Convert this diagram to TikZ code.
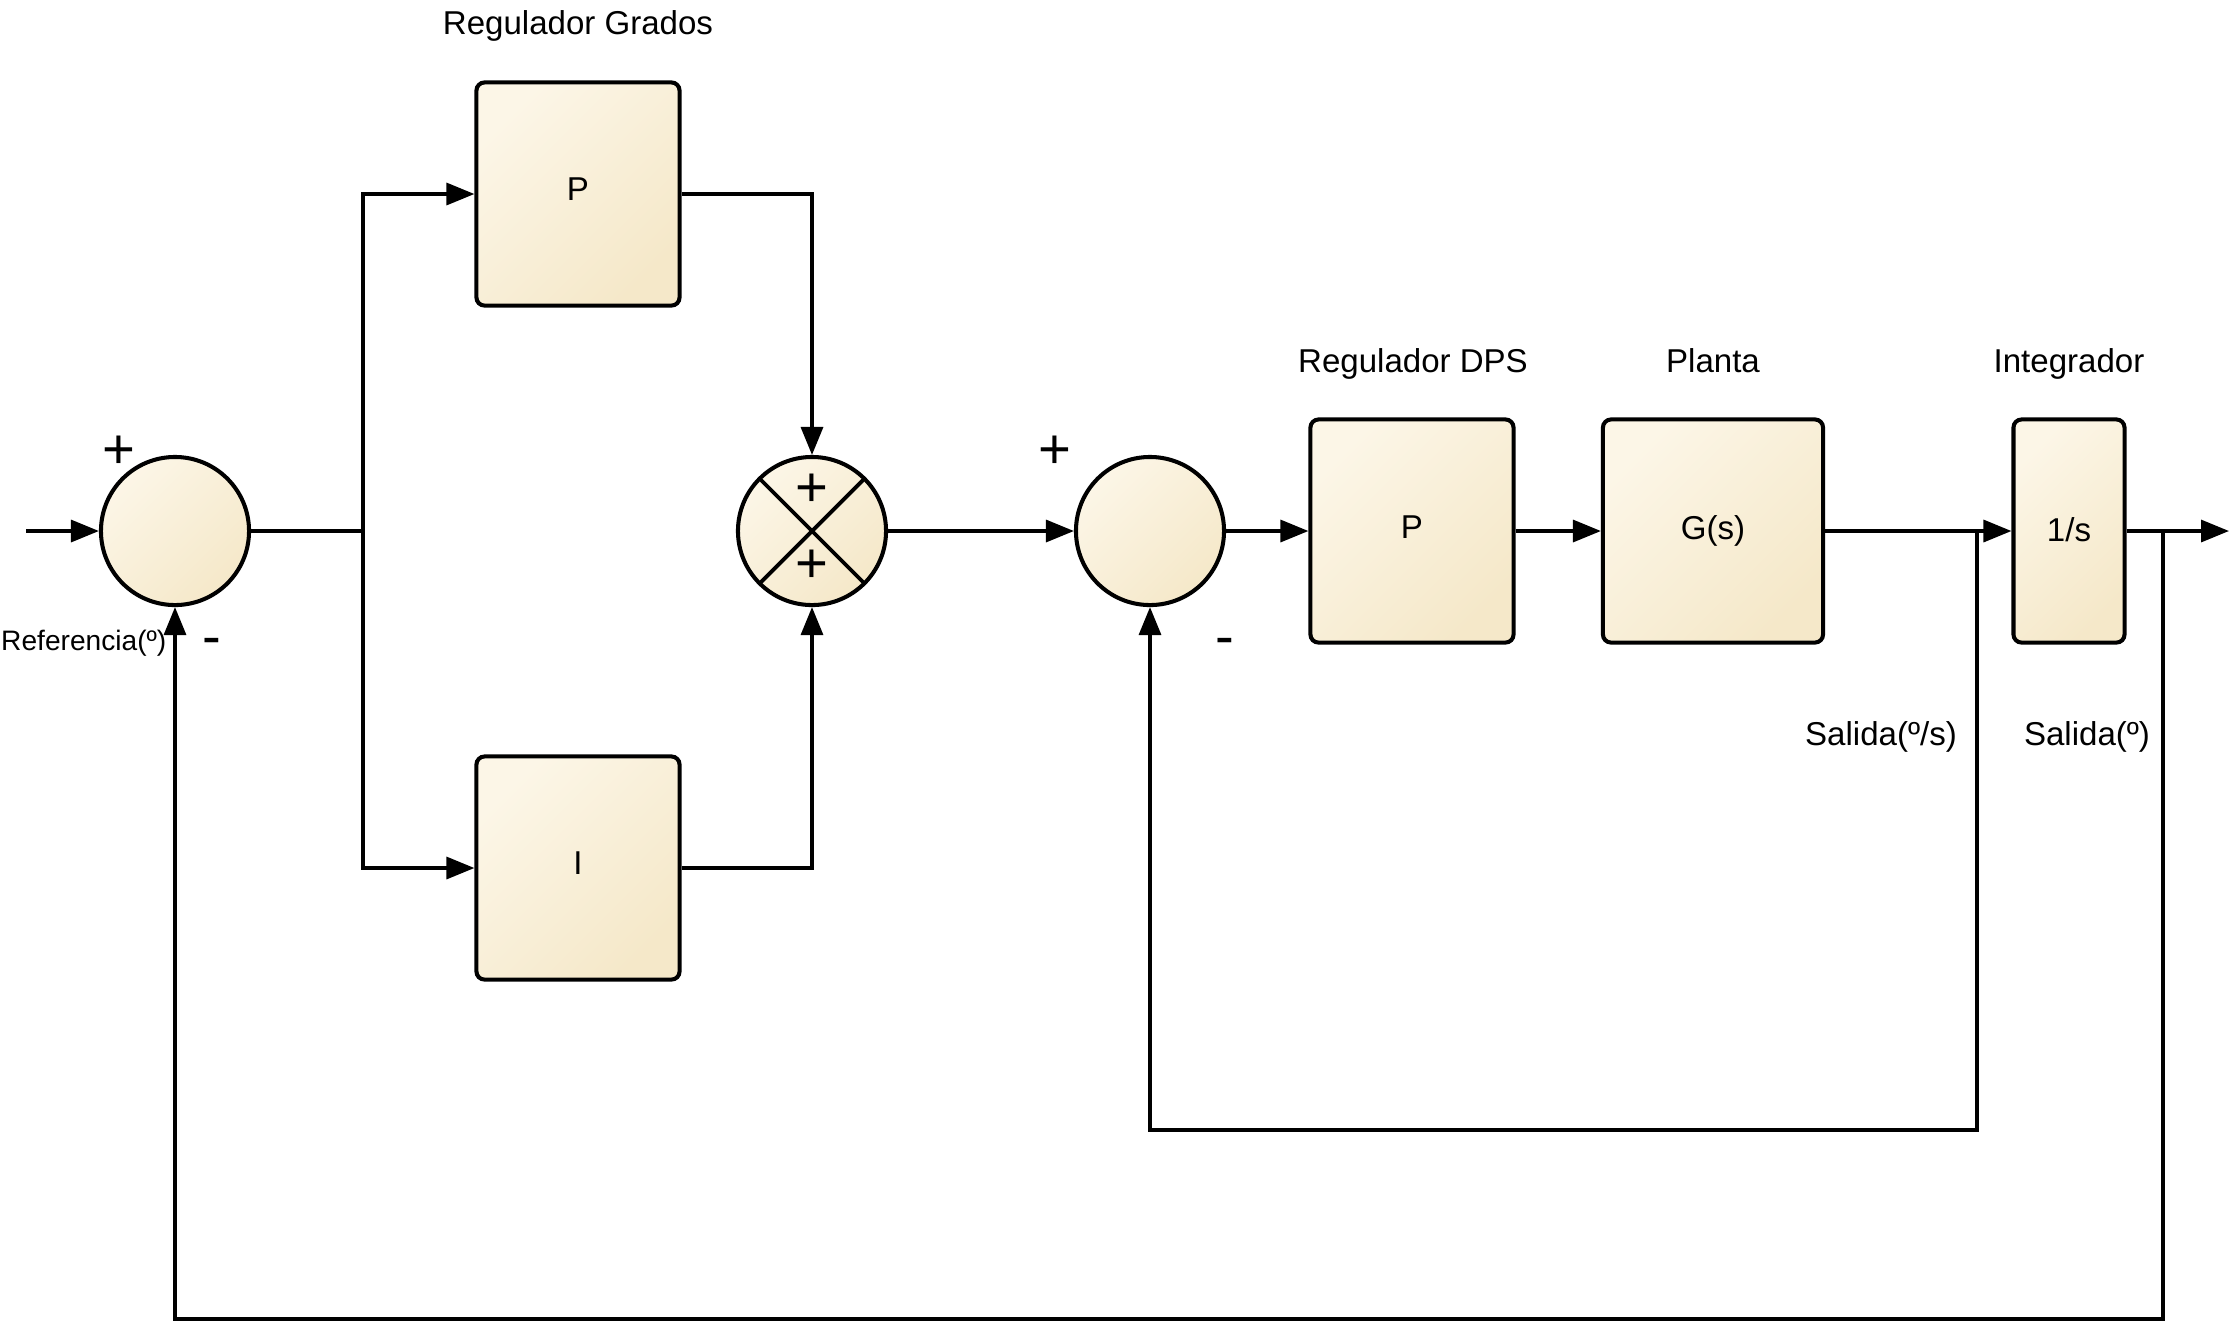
\documentclass[tikz,border=0pt]{standalone}
\usepackage{fontspec}
\setmainfont{Liberation Sans}
\usepackage{tikz}
\usetikzlibrary{shapes,arrows.meta}
\usetikzlibrary{positioning}
\tikzset{>={Triangle[length=2.8mm,width=2.2mm]}}
\definecolor{cremaclaro}{HTML}{FCF6E7}
\definecolor{cremaoscuro}{HTML}{F5E8C9}
\tikzset{
	bloque/.style={draw, line width=1.15pt, rounded corners=2.3pt, top color=cremaclaro, bottom color=cremaoscuro, shading angle=45, minimum width=2.03cm, minimum height=2.23cm, inner sep=0pt, font=\fontsize{9.4}{11}\selectfont},
	suma/.style={circle, draw, line width=1.15pt, top color=cremaclaro, bottom color=cremaoscuro, shading angle=45, minimum size=1.48cm, inner sep=0pt},
	cruz/.style={path picture={\draw[line width=1.1pt] (path picture bounding box.north west) -- (path picture bounding box.south east) (path picture bounding box.north east) -- (path picture bounding box.south west);}},
	signo/.style={anchor=base, inner sep=0pt, font=\fontsize{16}{18}\selectfont},
	etiqueta/.style={anchor=base, inner sep=0pt, font=\fontsize{9.4}{11}\selectfont},
	linea/.style={line width=0.95pt}
}

\begin{document}
\begin{tikzpicture}[line cap=butt,line join=miter,x=0.01cm,y=-0.01cm]
	\useasboundingbox (0,0) rectangle (2229,1329);
	% bloques y sumadores
	\node[suma] (sumA) at (175,531) {};
	\node[bloque] (pbox) at (578,194) {\raisebox{3pt}{P}};
	\node[bloque] (ibox) at (578,868) {\raisebox{3pt}{I}};
	\node[suma,cruz] (sumB) at (812,531) {};
	\node[suma] (sumC) at (1150,531) {};
	\node[bloque] (dps) at (1412,531) {\raisebox{2pt}{P}};
	\node[bloque,minimum width=2.2cm] (planta) at (1713,531) {\raisebox{1pt}{G(s)}};
	\node[bloque,minimum width=1.11cm] (integ) at (2069,531) {\raisebox{1pt}{1/s}};
	% puntos auxiliares
	\coordinate (entrada) at (26,531);
	\coordinate (rama) at (363,531);
	\coordinate (salida) at (2229,531);
	\coordinate (tapV) at (1977,531);
	\coordinate (tapP) at (2163,531);
	\coordinate (fbV) at (1977,1130);
	\coordinate (fbP) at (2163,1319);
	% conexiones
	\draw[linea,->] (entrada) -- (sumA);
	\draw[linea] (sumA) -- (rama);
	\draw[linea,->] (rama) |- (pbox);
	\draw[linea,->] (rama) |- (ibox);
	\draw[linea,->] (pbox) -| (sumB);
	\draw[linea,->] (ibox) -| (sumB);
	\draw[linea,->] (sumB) -- (sumC);
	\draw[linea,->] (sumC) -- (dps);
	\draw[linea,->] (dps) -- (planta);
	\draw[linea,->] (planta) -- (integ);
	\draw[linea,->] (integ) -- (salida);
	\draw[linea,->] (tapV) -- (fbV) -| (sumC);
	\draw[linea,->] (tapP) -- (fbP) -| (sumA);
	% signos
	\node[signo] (masA) at (119,468) {+};
	\node[signo] (menosA) at (212,655) {-};
	\node[signo] (masB1) at (812,506) {+};
	\node[signo] (masB2) at (812,582) {+};
	\node[signo] (masC) at (1055,468) {+};
	\node[signo] (menosC) at (1225,655) {-};
	% textos
	\node[etiqueta] (tGrados) at (578,34) {Regulador Grados};
	\node[etiqueta] (tDPS) at (1413,372) {Regulador DPS};
	\node[etiqueta] (tPlanta) at (1713,372) {Planta};
	\node[etiqueta] (tInteg) at (2069,372) {Integrador};
	\node[etiqueta] (tSalV) at (1881,745) {Salida(º/s)};
	\node[etiqueta] (tSalP) at (2087,745) {Salida(º)};
	\node[etiqueta,anchor=base east,font=\fontsize{8}{10}\selectfont] (tRef) at (167,650) {Referencia(º)};
\end{tikzpicture}
\end{document}
